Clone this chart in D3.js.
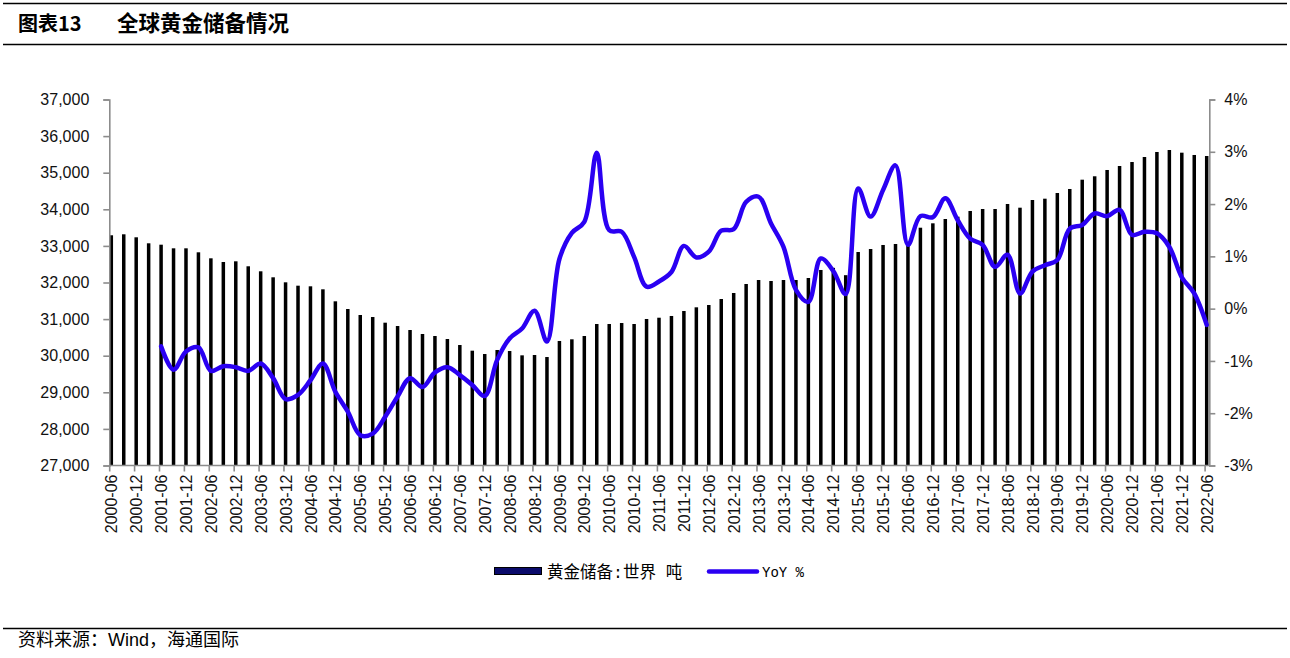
<!DOCTYPE html>
<html>
<head>
<meta charset="utf-8">
<script src="https://cdn.jsdelivr.net/npm/d3@7/dist/d3.min.js"></script>
<style>
  html, body { margin: 0; padding: 0; background: #fff; }
  svg { display: block; }
</style>
</head>
<body>
<div id="chart"></div>
<script>
// quarterly categories, 2000-06 .. 2022-06
const categories = [];
for (let y = 2000; y <= 2022; y++) {
  for (const m of ['03', '06', '09', '12']) {
    const c = `${y}-${m}`;
    if (c >= '2000-06' && c <= '2022-06') categories.push(c);
  }
}

// 黄金储备:世界 (吨)
const reserves = [
  33290, 33317, 33235, 33071, 33033, 32934, 32934, 32825, 32661, 32560,
  32579, 32443, 32306, 32142, 32005, 31913, 31896, 31814, 31486, 31276,
  31112, 31057, 30902, 30811, 30702, 30593, 30538, 30456, 30292, 30137,
  30046, 30156, 30128, 30010, 30019, 29964, 30402, 30448, 30538, 30866,
  30866, 30893, 30866, 31003, 31038, 31085, 31221, 31322, 31385, 31549,
  31713, 31959, 32068, 32041, 32068, 32068, 32123, 32342, 32400, 32200,
  32833, 32915, 33025, 33052, 33080, 33497, 33617, 33735, 33798, 33954,
  34008, 34008, 34145, 34044, 34254, 34290, 34445, 34555, 34809, 34902,
  35074, 35183, 35292, 35429, 35566, 35620, 35547, 35484, 35456
];

// YoY %, starts at 2001-06
const yoy = [
  null, null, null, null,
  -0.72, -1.17, -0.82, -0.74, -1.19, -1.10, -1.12, -1.19, -1.05, -1.33,
  -1.73, -1.65, -1.37, -1.05, -1.59, -1.97, -2.42, -2.39, -2.07, -1.68,
  -1.33, -1.50, -1.22, -1.12, -1.27, -1.46, -1.67, -0.98, -0.57, -0.38,
  -0.04, -0.63, 0.95, 1.45, 1.66, 2.98, 1.50, 1.47, 0.99, 0.42,
  0.52, 0.70, 1.20, 0.98, 1.09, 1.49, 1.52, 2.04, 2.14, 1.63,
  1.18, 0.36, 0.13, 0.96, 0.72, 0.28, 2.30, 1.76, 2.27, 2.74,
  1.22, 1.77, 1.75, 2.11, 1.69, 1.34, 1.22, 0.80, 1.03, 0.29,
  0.71, 0.83, 0.93, 1.53, 1.60, 1.82, 1.77, 1.89, 1.41, 1.47,
  1.44, 1.18, 0.60, 0.29, -0.31
];

const leftTicks = [27000, 28000, 29000, 30000, 31000, 32000, 33000, 34000, 35000, 36000, 37000];
const rightTicks = [-3, -2, -1, 0, 1, 2, 3, 4];

const title1 = '图表13';
const title2 = '全球黄金储备情况';
const source = '资料来源：Wind，海通国际';
const legendBar = '黄金储备:世界 吨';
const legendLine = 'YoY %';

const W = 1290, H = 658;
const plot = { left: 109.3, right: 1209.3, top: 99.5, bottom: 465.5 };
const axisColor = '#8c8c8c';
const lineColor = '#2a00f2';

const svg = d3.select('#chart').append('svg')
  .attr('width', W).attr('height', H);

// header / footer rules
[3.5, 44.5, 628.5].forEach(y => {
  svg.append('line')
    .attr('x1', 3).attr('x2', 1287).attr('y1', y).attr('y2', y)
    .attr('stroke', '#000').attr('stroke-width', 1.3);
});

svg.append('text')
  .attr('x', 18).attr('y', 31)
  .style('font-family', '"Noto Sans CJK SC", sans-serif')
  .style('font-weight', 'bold').style('font-size', '20px')
  .text(title1);
svg.append('text')
  .attr('x', 117).attr('y', 31)
  .style('font-family', '"Noto Sans CJK SC", sans-serif')
  .style('font-weight', 'bold').style('font-size', '21.5px')
  .text(title2);

svg.append('text')
  .attr('x', 18).attr('y', 646)
  .style('font-family', '"Liberation Sans", "Noto Sans CJK SC", sans-serif')
  .style('font-size', '18px')
  .text(source);

// scales
const x = d3.scalePoint().domain(categories).range([111.3, 1206.7]);
const yL = d3.scaleLinear().domain([27000, 37000]).range([plot.bottom, plot.top]);
const yR = d3.scaleLinear().domain([-3, 4]).range([plot.bottom, plot.top]);

// bars
const barW = 3.5;
svg.append('g').selectAll('rect')
  .data(reserves)
  .join('rect')
  .attr('x', (d, i) => x(categories[i]) - barW / 2)
  .attr('y', d => yL(d))
  .attr('width', barW)
  .attr('height', d => yL(27000) - yL(d))
  .attr('fill', '#000');

// axes
const labelFont = '"Liberation Sans", Arial, sans-serif';

const gL = svg.append('g')
  .attr('transform', `translate(${plot.left},0)`)
  .call(d3.axisLeft(yL).tickValues(leftTicks).tickFormat(d3.format(',')).tickSize(6).tickPadding(14));
const gR = svg.append('g')
  .attr('transform', `translate(${plot.right},0)`)
  .call(d3.axisRight(yR).tickValues(rightTicks).tickFormat(d => d + '%').tickSize(6).tickPadding(9));

[gL, gR].forEach(g => {
  g.select('.domain').attr('stroke', axisColor).attr('stroke-width', 1.6);
  g.selectAll('.tick line').attr('stroke', axisColor).attr('stroke-width', 1.6);
  g.selectAll('.tick text')
    .style('font-family', labelFont).style('font-size', '16px').attr('fill', '#111');
});

// category axis
const gX = svg.append('g');
gX.append('line')
  .attr('x1', plot.left).attr('x2', plot.right)
  .attr('y1', plot.bottom).attr('y2', plot.bottom)
  .attr('stroke', axisColor).attr('stroke-width', 1.6);

const shown = categories.filter((c, i) => i % 2 === 0);
gX.selectAll('line.tk')
  .data(shown)
  .join('line')
  .attr('class', 'tk')
  .attr('x1', d => x(d) - 1.6).attr('x2', d => x(d) - 1.6)
  .attr('y1', plot.bottom).attr('y2', plot.bottom + 6)
  .attr('stroke', axisColor).attr('stroke-width', 1.6);

gX.selectAll('text')
  .data(shown)
  .join('text')
  .attr('transform', d => `translate(${x(d) + 0.5},${plot.bottom + 9}) rotate(-90)`)
  .attr('text-anchor', 'end')
  .attr('dy', '0.35em')
  .style('font-family', labelFont).style('font-size', '16px')
  .attr('fill', '#111')
  .text(d => d);

// YoY line
const line = d3.line()
  .defined(d => d != null)
  .x((d, i) => x(categories[i]))
  .y(d => yR(d))
  .curve(d3.curveCatmullRom.alpha(0.5));

svg.append('path')
  .datum(yoy)
  .attr('d', line)
  .attr('fill', 'none')
  .attr('stroke', lineColor)
  .attr('stroke-width', 4.5)
  .attr('stroke-linejoin', 'round')
  .attr('stroke-linecap', 'round');

// legend
const lg = svg.append('g');
lg.append('rect')
  .attr('x', 494.5).attr('y', 567.5).attr('width', 47).attr('height', 7)
  .attr('fill', '#0b0b6b').attr('stroke', '#000').attr('stroke-width', 1);
lg.append('text')
  .attr('x', 547).attr('y', 572).attr('dy', '0.35em')
  .style('font-family', '"Liberation Mono", "Noto Sans CJK SC", monospace')
  .style('font-size', '16.5px')
  .text(legendBar);
lg.append('line')
  .attr('x1', 709).attr('x2', 757).attr('y1', 571.5).attr('y2', 571.5)
  .attr('stroke', lineColor).attr('stroke-width', 4.5).attr('stroke-linecap', 'round');
lg.append('text')
  .attr('x', 762).attr('y', 572).attr('dy', '0.35em')
  .style('font-family', '"Liberation Mono", monospace')
  .style('font-size', '14px')
  .text(legendLine);
</script>
</body>
</html>
